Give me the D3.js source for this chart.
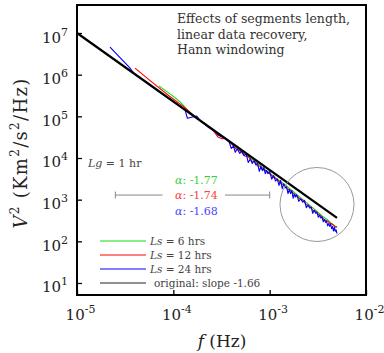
<!DOCTYPE html>
<html>
<head>
<meta charset="utf-8">
<script src="https://cdn.jsdelivr.net/npm/d3@7"></script>
<style>
  body { margin: 0; background: #fff; }
  text { font-family: "DejaVu Serif", serif; }
</style>
</head>
<body>
<div id="chart"></div>
<script>
// Ls = 6 hrs (green)
const greenFreq = [7.1e-5, 1.0e-4, 1.2e-4, 1.4e-4, 1.7e-4, 2.2e-4, 2.8e-4, 3.5e-4, 4.5e-4, 5.5e-4, 7.0e-4, 8.5e-4,
  1.0e-3, 1.2e-3, 1.4e-3, 1.7e-3, 2.0e-3, 2.5e-3, 3.0e-3, 3.5e-3, 4.0e-3, 4.5e-3, 5.0e-3];
const greenPsd = [5.37e5, 3.02e5, 2.13e5, 1.40e5, 9.6e4, 6.3e4, 4.0e4, 2.93e4, 1.84e4, 1.25e4, 8.4e3, 5.8e3,
  4.4e3, 3.1e3, 2.41e3, 1.66e3, 1.21e3, 791, 556, 407, 327, 255, 214];

// Ls = 12 hrs (red)
const redFreq = [4.0e-5, 6.0e-5, 9.0e-5, 1.3e-4, 1.7e-4, 2.2e-4, 2.6e-4, 2.9e-4, 3.2e-4, 3.5e-4, 4.0e-4, 4.5e-4,
  5.0e-4, 5.5e-4, 6.0e-4, 6.5e-4, 7.0e-4, 7.5e-4, 8.0e-4, 8.5e-4, 9.0e-4, 1.0e-3, 1.1e-3, 1.2e-3, 1.3e-3,
  1.4e-3, 1.5e-3, 1.6e-3, 1.8e-3, 2.0e-3, 2.2e-3, 2.4e-3, 2.6e-3, 2.8e-3, 3.0e-3, 3.2e-3, 3.4e-3, 3.6e-3,
  3.8e-3, 4.0e-3, 4.2e-3, 4.4e-3, 4.6e-3, 4.8e-3, 5.0e-3];
const redPsd = [1.43e6, 6.6e5, 3.12e5, 1.66e5, 9.6e4, 6.1e4, 4.5e4, 3.2e4, 2.9e4, 2.93e4, 2.22e4, 1.64e4,
  1.46e4, 1.12e4, 1.08e4, 8.5e3, 8.0e3, 6.4e3, 6.4e3, 5.2e3, 5.0e3, 4.2e3, 3.4e3, 3.1e3, 2.44e3,
  2.29e3, 1.83e3, 1.74e3, 1.36e3, 1.08e3, 976, 757, 702, 556, 525, 447, 404, 348,
  319, 309, 270, 265, 246, 217, 227];

// Ls = 24 hrs (blue)
const blueFreq = [2.2e-5, 3.5e-5, 3.9e-5, 5.0e-5, 7.0e-5, 1.0e-4, 1.2e-4, 1.32e-4, 1.40e-4, 1.75e-4, 1.89e-4,
  2.3e-4, 2.6e-4, 2.9e-4, 3.2e-4, 3.5e-4, 3.8e-4, 4.0e-4, 4.2e-4, 4.4e-4, 4.6e-4, 4.9e-4, 5.1e-4, 5.4e-4,
  5.7e-4, 6.0e-4, 6.3e-4, 6.6e-4, 6.9e-4, 7.2e-4, 7.5e-4, 7.8e-4, 8.1e-4, 8.4e-4, 8.7e-4, 9.0e-4, 9.3e-4, 9.6e-4,
  1.0e-3, 1.05e-3, 1.1e-3, 1.15e-3, 1.2e-3, 1.25e-3, 1.3e-3, 1.35e-3, 1.4e-3, 1.45e-3, 1.5e-3, 1.55e-3,
  1.6e-3, 1.65e-3, 1.7e-3, 1.75e-3, 1.8e-3, 1.85e-3, 1.9e-3, 1.95e-3, 2.0e-3, 2.1e-3, 2.2e-3, 2.3e-3,
  2.4e-3, 2.5e-3, 2.6e-3, 2.7e-3, 2.8e-3, 2.9e-3, 3.0e-3, 3.1e-3, 3.2e-3, 3.3e-3, 3.4e-3, 3.5e-3, 3.6e-3,
  3.7e-3, 3.8e-3, 3.9e-3, 4.0e-3, 4.1e-3, 4.2e-3, 4.3e-3, 4.4e-3, 4.5e-3, 4.6e-3, 4.7e-3, 4.8e-3, 4.9e-3, 5.0e-3];
const bluePsd = [4.6e6, 1.49e6, 1.07e6, 7.0e5, 4.0e5, 2.25e5, 1.70e5, 1.45e5, 9.0e4, 1.02e5, 8.0e4,
  5.5e4, 4.77e4, 3.57e4, 3.2e4, 2.93e4, 2.42e4, 1.69e4, 1.94e4, 1.37e4, 1.67e4, 1.28e4, 1.49e4, 1.15e4,
  1.25e4, 7.8e3, 9.5e3, 7.4e3, 8.6e3, 6.8e3, 7.5e3, 4.8e3, 6.3e3, 5.0e3, 5.9e3, 4.2e3, 5.0e3, 4.2e3,
  4.7e3, 3.1e3, 3.8e3, 2.8e3, 3.1e3, 2.2e3, 2.9e3, 1.84e3, 2.4e3, 1.93e3, 2.04e3, 1.39e3,
  1.74e3, 1.40e3, 1.66e3, 1.08e3, 1.36e3, 1.16e3, 1.31e3, 1.19e3, 913, 1.05e3, 874, 958,
  641, 749, 628, 660, 470, 555, 470, 497, 378, 424, 362, 385, 295,
  333, 285, 305, 235, 266, 229, 260, 201, 229, 177, 213, 174, 188, 154];

// original signal, slope -1.66 (black)
const origFreq = [1e-5, 5e-3];
const origPsd = [1e7, 365];

const seriesNames = ['Ls = 6 hrs', 'Ls = 12 hrs', 'Ls = 24 hrs', 'original: slope -1.66'];
const alphaLabels = ['-1.77', '-1.74', '-1.68'];
const xTickValues = [1e-5, 1e-4, 1e-3, 1e-2];
const yTickValues = [1e1, 1e2, 1e3, 1e4, 1e5, 1e6, 1e7];
const titleLines = ['Effects of segments length,', 'linear data recovery,', 'Hann windowing'];

const width = 384, height = 353;
const margin = {top: 5, right: 18, bottom: 58, left: 77};

const svg = d3.select('#chart')
    .append('svg')
    .attr('width', width)
    .attr('height', height);

const x = d3.scaleLog()
    .domain([1e-5, 1e-2])
    .range([margin.left, width - margin.right]);
const y = d3.scaleLog()
    .domain([5.15, 4.7e7])
    .range([height - margin.bottom, margin.top]);

const colors = ['#11dd11', '#ff0000', '#0000ff', '#000000'];
const alphaColors = ['#3ccf3c', '#ff4040', '#4848ff'];

const series = [
  {freq: greenFreq, psd: greenPsd, color: colors[0], w: 1.1},
  {freq: redFreq, psd: redPsd, color: colors[1], w: 1.1},
  {freq: blueFreq, psd: bluePsd, color: colors[2], w: 1.1},
  {freq: origFreq, psd: origPsd, color: colors[3], w: 2.2}
];

const line = d3.line()
    .x(d => x(d[0]))
    .y(d => y(d[1]));

// axes, ticks pointing inward
const gx = svg.append('g')
    .attr('transform', `translate(0,${y.range()[0]})`)
    .call(d3.axisBottom(x).tickValues(xTickValues).tickSize(-5));
const gy = svg.append('g')
    .attr('transform', `translate(${x.range()[0]},0)`)
    .call(d3.axisLeft(y).tickValues(yTickValues).tickSize(-5));

[gx, gy].forEach(g => {
  g.select('.domain').remove();
  g.selectAll('.tick line').attr('stroke', '#000').attr('stroke-width', 1.3);
  g.selectAll('.tick text')
      .text(null)
      .attr('fill', '#222')
      .attr('font-size', 15)
      .attr('font-family', '"DejaVu Serif", serif')
      .attr('dy', 0)
      .each(function(d) {
        const t = d3.select(this);
        t.append('tspan').text('10');
        t.append('tspan')
            .attr('dy', -7)
            .attr('font-size', 11)
            .text(Math.round(Math.log10(d)));
      });
});
gx.selectAll('.tick text').attr('y', 25).attr('x', 3);
gy.selectAll('.tick text').attr('x', -9).attr('y', 9);

// spectra
svg.append('g')
  .selectAll('path')
  .data(series)
  .join('path')
    .attr('d', s => line(d3.zip(s.freq, s.psd)))
    .attr('fill', 'none')
    .attr('stroke', s => s.color)
    .attr('stroke-width', s => s.w)
    .attr('stroke-linejoin', 'round');

// frame
svg.append('rect')
    .attr('x', x.range()[0])
    .attr('y', y.range()[1])
    .attr('width', x.range()[1] - x.range()[0])
    .attr('height', y.range()[0] - y.range()[1])
    .attr('fill', 'none')
    .attr('stroke', '#000')
    .attr('stroke-width', 2);

// title
svg.append('text')
    .attr('x', 177)
    .attr('y', 23)
    .attr('font-size', 12.5)
    .attr('fill', '#333')
    .selectAll('tspan')
    .data(titleLines)
    .join('tspan')
      .attr('x', 177)
      .attr('dy', (d, i) => i ? 15.5 : 0)
      .text(d => d);

// Lg = 1 hr
const lg = svg.append('text')
    .attr('x', 88)
    .attr('y', 167)
    .attr('font-size', 11)
    .attr('fill', '#444');
lg.append('tspan').attr('font-style', 'italic').text('Lg');
lg.append('tspan').text(' = 1 hr');

// range bar with fitted slopes
const barY = y(1.29e3);
const gray = '#888';
[[x(2.5e-5), 162.5], [225, x(1e-3)]].forEach(seg => {
  svg.append('line')
      .attr('x1', seg[0]).attr('x2', seg[1])
      .attr('y1', barY).attr('y2', barY)
      .attr('stroke', gray).attr('stroke-width', 1);
});
[x(2.5e-5), x(1e-3)].forEach(cx => {
  svg.append('line')
      .attr('x1', cx).attr('x2', cx)
      .attr('y1', barY - 3.5).attr('y2', barY + 3.5)
      .attr('stroke', gray).attr('stroke-width', 1);
});

svg.append('g')
  .selectAll('text')
  .data(alphaLabels)
  .join('text')
    .attr('x', 175)
    .attr('y', (d, i) => 184 + i * 15.3)
    .attr('font-size', 11)
    .attr('fill', (d, i) => alphaColors[i])
    .each(function(d) {
      const t = d3.select(this);
      t.append('tspan').attr('font-style', 'italic').text('α');
      t.append('tspan').text(': ' + d);
    });

// circle marking the high-frequency tail
svg.append('circle')
    .attr('cx', x(3.1e-3))
    .attr('cy', y(766))
    .attr('r', 37)
    .attr('fill', 'none')
    .attr('stroke', '#999')
    .attr('stroke-width', 1);

// legend
const legend = svg.append('g')
  .selectAll('g')
  .data(seriesNames)
  .join('g')
    .attr('transform', (d, i) => `translate(100,${241 + i * 14})`);
legend.append('line')
    .attr('x1', 0).attr('x2', 46)
    .attr('stroke', (d, i) => i === 3 ? '#222' : colors[i])
    .attr('stroke-width', 1);
legend.append('text')
    .attr('x', 50)
    .attr('y', 4)
    .attr('font-size', 10.5)
    .attr('fill', '#444')
    .each(function(d, i) {
      const t = d3.select(this);
      if (i < 3) {
        t.append('tspan').attr('font-style', 'italic').text('Ls');
        t.append('tspan').text(d.slice(2));
      } else {
        t.attr('x', 54).text(d);
      }
    });

// axis titles
const xl = svg.append('text')
    .attr('x', 222)
    .attr('y', 347)
    .attr('text-anchor', 'middle')
    .attr('font-size', 17)
    .attr('fill', '#222');
xl.append('tspan').attr('font-style', 'italic').text('f');
xl.append('tspan').text('  (Hz)');

const yl = svg.append('text')
    .attr('transform', 'translate(27,153) rotate(-90)')
    .attr('text-anchor', 'middle')
    .attr('font-size', 18)
    .attr('letter-spacing', 1.3)
    .attr('fill', '#222');
yl.append('tspan').attr('font-style', 'italic').text('V');
yl.append('tspan').attr('dy', -8).attr('font-size', 12).text('2');
yl.append('tspan').attr('dy', 8).text('  (Km');
yl.append('tspan').attr('dy', -8).attr('font-size', 12).text('2');
yl.append('tspan').attr('dy', 8).text('/s');
yl.append('tspan').attr('dy', -8).attr('font-size', 12).text('2');
yl.append('tspan').attr('dy', 8).text('/Hz)');
</script>
</body>
</html>
